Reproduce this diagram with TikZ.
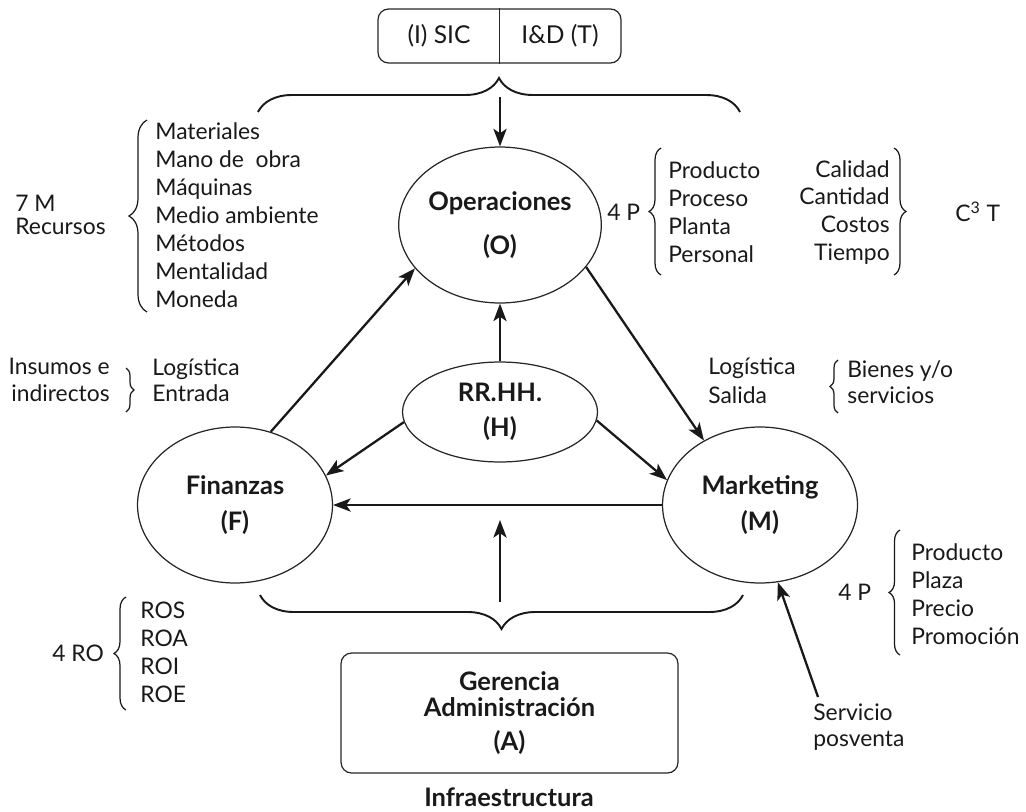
\documentclass[tikz,border=0pt]{standalone}
\usepackage{fontspec}
\setmainfont{Lato}
\usetikzlibrary{shapes.geometric,arrows.meta,decorations.pathreplacing}
\begin{document}
\begin{tikzpicture}[x=0.02cm,y=-0.02cm,
  every node/.style={text=black!90},
  bubble/.style={ellipse,draw=black!85,line width=0.7pt,minimum width=3.9cm,minimum height=3.12cm,inner sep=0pt,align=center,font=\fontsize{14.5}{16}\selectfont\bfseries},
  flow/.style={draw=black!90,line width=1.3pt,-{Stealth[length=10pt,width=7.5pt,inset=2.5pt]}},
  lst/.style={align=left,anchor=west,inner sep=0pt,font=\fontsize{13}{15.9}\selectfont},
  lstr/.style={align=right,anchor=east,inner sep=0pt,font=\fontsize{13}{15.9}\selectfont},
  bigbrace/.style={draw=black!90,decorate,decoration={brace,amplitude=0.68cm},line width=1.1pt},
  smallbrace/.style={draw=black!90,decorate,decoration={brace,amplitude=#1},line width=0.7pt},
  boxed/.style={draw=black!85,rounded corners=6pt,line width=0.7pt},
]
\useasboundingbox (0,0) rectangle (1026,811);

% top box: information systems / R&D
\node[boxed,minimum width=4.86cm,minimum height=1.08cm] (top) at (499.5,36) {};
\draw[black!85,line width=0.7pt] (top.north) -- (top.south);
\node[font=\fontsize{14}{15}\selectfont] (sic) at (439,36) {(I) SIC};
\node[font=\fontsize{14}{15}\selectfont] (idt) at (560,36) {I\&D (T)};

% large braces
\draw[bigbrace] (258,112) -- (740,112);
\draw[bigbrace] (743,595) -- (260,595);

% main areas
\node[bubble] (o) at (500,225) {Operaciones\\[9pt](O)};
\node[bubble,minimum height=2cm] (h) at (500,412) {RR.HH.\\[4pt](H)};
\node[bubble] (f) at (235,505) {Finanzas\\[4pt](F)};
\node[bubble] (m) at (760,505) {Marketing\\[4pt](M)};

% management box
\node[boxed,minimum width=6.74cm,minimum height=2.4cm,align=center,font=\fontsize{14.5}{14.5}\selectfont\bfseries] (a) at (509.5,713) {Gerencia\\Administración\\[5pt](A)};
\node[font=\fontsize{14.5}{15}\selectfont\bfseries,inner sep=0pt] (infra) at (509,797) {Infraestructura};

% flows
\coordinate (tb) at (500,97);
\draw[flow] (tb) -- (o.north);
\draw[flow] (f.64) -- (o.207);
\draw[flow] (o.334) -- (m.131);
\draw[flow] (h.north) -- (o.south);
\draw[flow] (h.186) -- (f.18);
\draw[flow] (h.-5) -- (m.165);
\draw[flow] (m.west) -- (f.east);
\coordinate (bb) at (500,602);
\coordinate (bt) at (500,520);
\draw[flow] (bb) -- (bt);

% seven M resources
\node[lst,font=\fontsize{13}{13.5}\selectfont] (sevenm) at (15,215) {7 M\\Recursos};
\draw[smallbrace=0.36cm] (147,312) -- (147,120);
\node[lst] (recursos) at (155,215) {Materiales\\Mano de\ \ obra\\Máquinas\\Medio ambiente\\Métodos\\Mentalidad\\Moneda};

% inbound logistics
\node[lstr,font=\fontsize{13}{15}\selectfont] (insumos) at (110,380) {Insumos e\\indirectos};
\draw[smallbrace=0.16cm] (126,368) -- (126,412);
\node[lst,font=\fontsize{13}{15}\selectfont] (login) at (152,380) {Logística\\Entrada};

% operations 4P and C3T
\node[lst] (ops4p) at (607,212) {4 P};
\draw[smallbrace=0.24cm] (661,275) -- (661,148);
\node[lst] (opsl) at (668,212.5) {Producto\\Proceso\\Planta\\Personal};
\node[lstr] (opsr) at (890,212.5) {Calidad\\Cantidad\\Costos\\Tiempo};
\draw[smallbrace=0.24cm] (894,148) -- (894,275);
\node[lst] (c3t) at (955,212) {C\textsuperscript{3} T};

% outbound logistics
\node[lst,font=\fontsize{13}{16.5}\selectfont] (logout) at (708,381) {Logística\\Salida};
\draw[smallbrace=0.16cm] (838,413) -- (838,360);
\node[lst,font=\fontsize{13}{15}\selectfont] (bienes) at (847,382) {Bienes y/o\\servicios};

% marketing 4P
\node[lst] (mk4p) at (838,592) {4 P};
\draw[smallbrace=0.22cm] (900,655) -- (900,530);
\node[lst] (mkl) at (911,594.5) {Producto\\Plaza\\Precio\\Promoción};

% financial ratios
\node[lst] (ro) at (52,653) {4 RO};
\draw[smallbrace=0.24cm] (126,710) -- (126,597);
\node[lst] (rol) at (140,652.5) {ROS\\ROA\\ROI\\ROE};

% after-sales service
\node[lst,anchor=north west,font=\fontsize{13}{15}\selectfont] (sp) at (813,703) {Servicio\\posventa};
\draw[flow] ([xshift=0.1cm,yshift=0.12cm]sp.north west) -- (m.-77);
\end{tikzpicture}
\end{document}
